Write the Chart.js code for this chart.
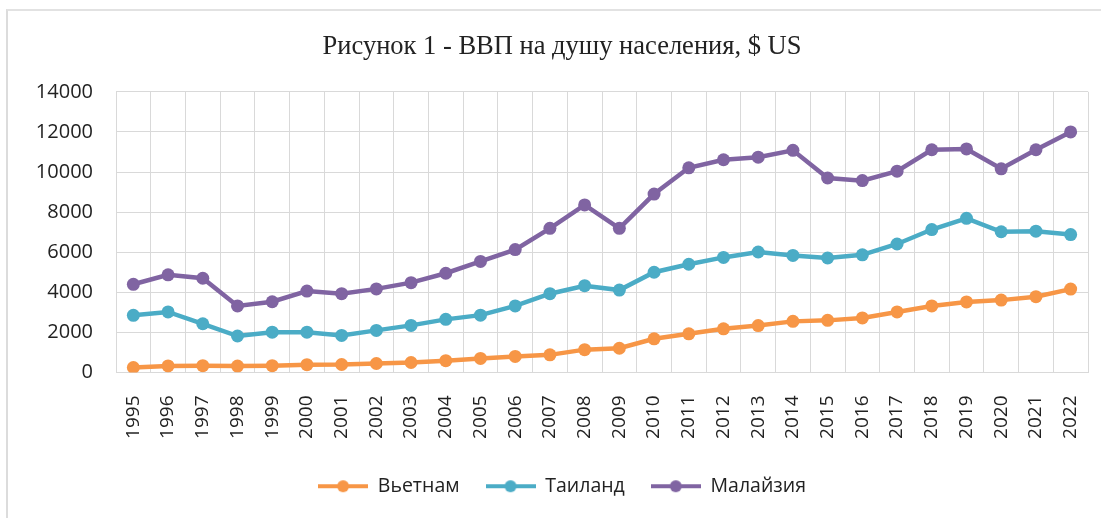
<!DOCTYPE html>
<html>
<head>
<meta charset="utf-8">
<script src="https://cdn.jsdelivr.net/npm/chart.js@4.4.1/dist/chart.umd.min.js"></script>
<style>
  html, body { margin: 0; padding: 0; background: #fff; }
  #wrap { position: relative; width: 1101px; height: 518px; overflow: hidden; }
  #frame { position: absolute; left: 6px; top: 9px; width: 1200px; height: 600px;
           border-left: 2px solid #dcdcdc; border-top: 2px solid #e2e2e2; }
  #chart { position: absolute; left: 0; top: 0; }
</style>
</head>
<body>
<div id="wrap">
  <div id="frame"></div>
  <canvas id="chart" width="1101" height="518"></canvas>
</div>
<script>
// years on the x axis
var years = ['1995','1996','1997','1998','1999','2000','2001','2002','2003','2004',
             '2005','2006','2007','2008','2009','2010','2011','2012','2013','2014',
             '2015','2016','2017','2018','2019','2020','2021','2022'];

// GDP per capita, $ US
var vietnam = [250, 330, 340, 320, 340, 390, 400, 450, 500, 590,
               700, 800, 880, 1140, 1210, 1680, 1930, 2180, 2340, 2550,
               2600, 2720, 3020, 3320, 3520, 3610, 3780, 4160];
var thailand = [2850, 3020, 2430, 1820, 2010, 2010, 1850, 2100, 2350, 2650,
                2860, 3320, 3930, 4330, 4110, 5000, 5400, 5740, 6010, 5840,
                5710, 5870, 6410, 7130, 7690, 7020, 7050, 6880];
var malaysia = [4400, 4870, 4700, 3320, 3530, 4060, 3930, 4170, 4480, 4950,
                5540, 6130, 7190, 8360, 7190, 8900, 10210, 10610, 10740, 11080,
                9700, 9570, 10040, 11110, 11150, 10160, 11110, 12000];

var seriesNames = ['Вьетнам', 'Таиланд', 'Малайзия'];
var seriesColors = ['#F79646', '#4BACC6', '#8064A2'];
var yTicks = [0, 2000, 4000, 6000, 8000, 10000, 12000, 14000];

function legendMark(color) {
    var c = document.createElement('canvas');
    c.width = 50;
    c.height = 14;
    var g = c.getContext('2d');
    g.strokeStyle = color;
    g.lineWidth = 4;
    g.beginPath();
    g.moveTo(0, 7);
    g.lineTo(50, 7);
    g.stroke();
    g.fillStyle = color;
    g.beginPath();
    g.arc(25, 7, 6, 0, Math.PI * 2);
    g.fill();
    return c;
}

function makeSet(i, values) {
    return {
        label: seriesNames[i],
        data: values,
        borderColor: seriesColors[i],
        backgroundColor: seriesColors[i],
        borderWidth: 4.5,
        pointRadius: 6.5,
        pointBorderWidth: 0,
        pointHoverRadius: 6.5,
        tension: 0
    };
}

new Chart(document.getElementById('chart').getContext('2d'), {
    type: 'line',
    data: {
        labels: years,
        datasets: [makeSet(0, vietnam), makeSet(1, thailand), makeSet(2, malaysia)]
    },
    options: {
        responsive: false,
        animation: false,
        layout: { padding: { top: 31, right: 1, bottom: 12, left: 24 } },
        plugins: {
            title: {
                display: true,
                text: 'Рисунок 1 - ВВП на душу населения, $ US',
                color: '#222',
                font: { family: '"Liberation Serif", "Times New Roman", serif', size: 26.5, weight: 'normal' },
                padding: { top: 0, bottom: 29 }
            },
            legend: {
                position: 'bottom',
                labels: {
                    usePointStyle: true,
                    pointStyleWidth: 50,
                    color: '#222',
                    padding: 26,
                    font: { family: '"Open Sans", sans-serif', size: 19.5 },
                    generateLabels: function(chart) {
                        return chart.data.datasets.map(function(ds, i) {
                            return {
                                text: ds.label,
                                pointStyle: legendMark(seriesColors[i]),
                                fillStyle: seriesColors[i],
                                strokeStyle: seriesColors[i],
                                lineWidth: 0,
                                fontColor: '#222',
                                datasetIndex: i
                            };
                        });
                    }
                }
            },
            tooltip: { enabled: false }
        },
        scales: {
            x: {
                offset: true,
                grid: { offset: true, color: '#d9d9d9', lineWidth: 1, drawTicks: false },
                border: { color: '#d9d9d9' },
                ticks: {
                    color: '#222',
                    font: { family: '"Open Sans", sans-serif', size: 19 },
                    minRotation: 90,
                    maxRotation: 90,
                    autoSkip: false,
                    padding: 23
                },
                afterFit: function(scale) {
                    scale.height = 78;
                    scale.paddingLeft = 0;
                    scale.paddingRight = 13;
                }
            },
            y: {
                min: 0,
                max: 14000,
                grid: { color: '#d9d9d9', lineWidth: 1, drawTicks: false },
                border: { display: false },
                afterBuildTicks: function(scale) {
                    scale.ticks = yTicks.map(function(v) { return { value: v }; });
                },
                ticks: {
                    color: '#222',
                    font: { family: '"Open Sans", sans-serif', size: 20 },
                    padding: 23,
                    callback: function(v) { return String(v); }
                },
                afterFit: function(scale) { scale.width = 92; }
            }
        }
    }
});
</script>
</body>
</html>
